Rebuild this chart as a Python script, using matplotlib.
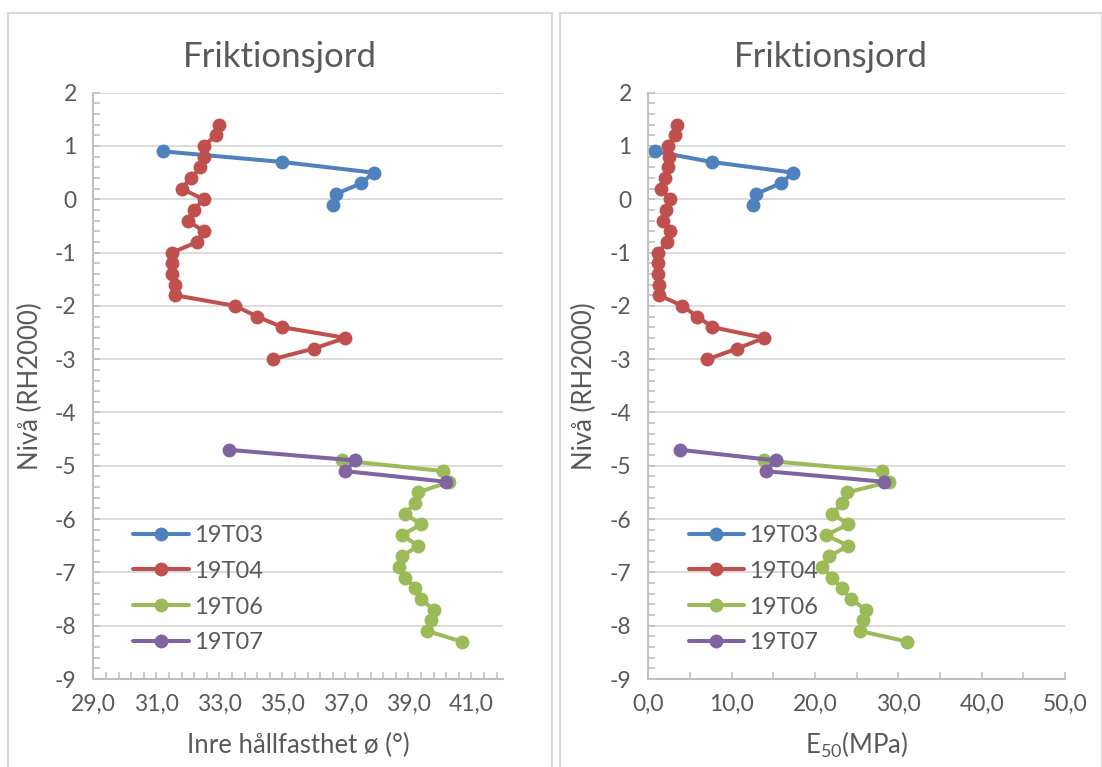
import matplotlib
matplotlib.use("Agg")
import matplotlib.pyplot as plt
from matplotlib.patches import Rectangle
from matplotlib.ticker import MultipleLocator, FuncFormatter

plt.rcParams['font.family'] = ['Lato', 'DejaVu Sans']
plt.rcParams['mathtext.fontset'] = 'custom'
plt.rcParams['mathtext.rm'] = 'Lato'

TEXT = '#595959'
GRID = '#D9D9D9'
AXIS = '#BFBFBF'

series_names = ['19T03', '19T04', '19T06', '19T07']
colors = ['#4F81BD', '#C0504D', '#9BBB59', '#8064A2']

# Levels (RH2000)
lvl_19T03 = [0.9, 0.7, 0.5, 0.3, 0.1, -0.1]
lvl_19T04 = [1.4, 1.2, 1.0, 0.8, 0.6, 0.4, 0.2, 0.0, -0.2, -0.4, -0.6, -0.8,
             -1.0, -1.2, -1.4, -1.6, -1.8, -2.0, -2.2, -2.4, -2.6, -2.8, -3.0]
lvl_19T06 = [-4.9, -5.1, -5.3, -5.5, -5.7, -5.9, -6.1, -6.3, -6.5, -6.7, -6.9,
             -7.1, -7.3, -7.5, -7.7, -7.9, -8.1, -8.3]
lvl_19T07 = [-4.7, -4.9, -5.1, -5.3]

# Friction angle (deg)
phi_19T03 = [31.2, 35.0, 37.9, 37.5, 36.7, 36.6]
phi_19T04 = [33.0, 32.9, 32.5, 32.5, 32.4, 32.1, 31.8, 32.5, 32.2, 32.0, 32.5, 32.3,
             31.5, 31.5, 31.5, 31.6, 31.6, 33.5, 34.2, 35.0, 37.0, 36.0, 34.7]
phi_19T06 = [36.9, 40.1, 40.3, 39.3, 39.2, 38.9, 39.4, 38.8, 39.3, 38.8, 38.7,
             38.9, 39.2, 39.4, 39.8, 39.7, 39.6, 40.7]
phi_19T07 = [33.3, 37.3, 37.0, 40.2]

# E50 (MPa)
e50_19T03 = [0.8, 7.6, 17.4, 15.9, 12.9, 12.6]
e50_19T04 = [3.4, 3.2, 2.4, 2.5, 2.4, 2.0, 1.5, 2.6, 2.1, 1.8, 2.6, 2.2,
             1.2, 1.2, 1.2, 1.3, 1.3, 4.1, 5.9, 7.7, 13.9, 10.7, 7.1]
e50_19T06 = [13.9, 28.0, 28.9, 23.9, 23.3, 22.1, 24.0, 21.3, 24.0, 21.7, 20.8,
             22.1, 23.2, 24.3, 26.1, 25.8, 25.4, 31.1]
e50_19T07 = [3.8, 15.3, 14.1, 28.3]

levels = [lvl_19T03, lvl_19T04, lvl_19T06, lvl_19T07]
phis = [phi_19T03, phi_19T04, phi_19T06, phi_19T07]
e50s = [e50_19T03, e50_19T04, e50_19T06, e50_19T07]

W, H = 1102, 767
fig = plt.figure(figsize=(W / 100, H / 100), dpi=100)

# chart frames
for x0, x1 in [(7.5, 552), (560, 1101.5)]:
    fig.add_artist(Rectangle((x0 / W, -0.01), (x1 - x0) / W, (H - 12.5) / H + 0.01,
                             transform=fig.transFigure, fill=False,
                             edgecolor='#D9D9D9', linewidth=1.5))

def px_axes(x0, x1, top=92.7, bottom=679):
    return fig.add_axes([x0 / W, 1 - bottom / H, (x1 - x0) / W, (bottom - top) / H])

axL = px_axes(93.3, 503)
axR = px_axes(648.3, 1065)

def comma(fmt):
    return FuncFormatter(lambda v, p: (fmt % v).replace('.', ','))

def style(ax, xlim, xmajor, xmajor_off, xminor, xminor_off, xlabel):
    ax.set_xlim(*xlim)
    ax.set_ylim(-9, 2)
    ax.yaxis.set_major_locator(MultipleLocator(1))
    ax.yaxis.set_minor_locator(MultipleLocator(0.2))
    ax.xaxis.set_major_locator(MultipleLocator(xmajor, offset=xmajor_off))
    ax.xaxis.set_minor_locator(MultipleLocator(xminor, offset=xminor_off))
    ax.xaxis.set_major_formatter(comma('%.1f'))
    ax.yaxis.set_major_formatter(FuncFormatter(lambda v, p: '%d' % round(v)))
    ax.grid(axis='y', which='major', color=GRID, linewidth=1.3)
    ax.set_axisbelow(True)
    for s in ['top', 'right']:
        ax.spines[s].set_visible(False)
    for s in ['left', 'bottom']:
        ax.spines[s].set_color(AXIS)
        ax.spines[s].set_linewidth(1.5)
    ax.tick_params(axis='both', which='both', direction='in', color=AXIS, width=1.2,
                   labelcolor=TEXT, labelsize=16.5, length=5)
    ax.tick_params(axis='y', which='major', pad=12)
    ax.tick_params(axis='x', which='major', pad=11)
    ax.set_ylabel('Nivå (RH2000)', fontsize=18.5, color=TEXT)
    ax.yaxis.set_label_coords(-0.154, 0.5)
    ax.set_xlabel(xlabel, fontsize=18.5, color=TEXT)
    ax.xaxis.set_label_coords(0.5, -0.1126)
    ax.xaxis.label.set_va('center')
    ax.yaxis.label.set_va('center')

style(axL, (29, 42), 2, 1, 0.4, 0.2, 'Inre hållfasthet ø (°)')
style(axR, (0, 50), 10, 0, 5, 0, r'E$\mathregular{_{50}}$(MPa)')

for ax, xs_all in [(axL, phis), (axR, e50s)]:
    for name, col, xs, ys in zip(series_names, colors, xs_all, levels):
        ax.plot(xs, ys, color=col, linewidth=2.9, marker='o', markersize=10,
                markeredgewidth=0, label=name, solid_capstyle='round')
    leg = ax.legend(loc='upper left', bbox_to_anchor=(0.097, 0.263),
                    frameon=False, fontsize=17, handlelength=2.35, handletextpad=0.22,
                    labelspacing=0.63, borderaxespad=0, borderpad=0)
    for t in leg.get_texts():
        t.set_color(TEXT)

fig.text(279.5 / W, 1 - 57 / H, 'Friktionsjord', ha='center', va='center', fontsize=25, color=TEXT)
fig.text(831 / W, 1 - 57 / H, 'Friktionsjord', ha='center', va='center', fontsize=25, color=TEXT)

fig.savefig('out.png', dpi=100)
